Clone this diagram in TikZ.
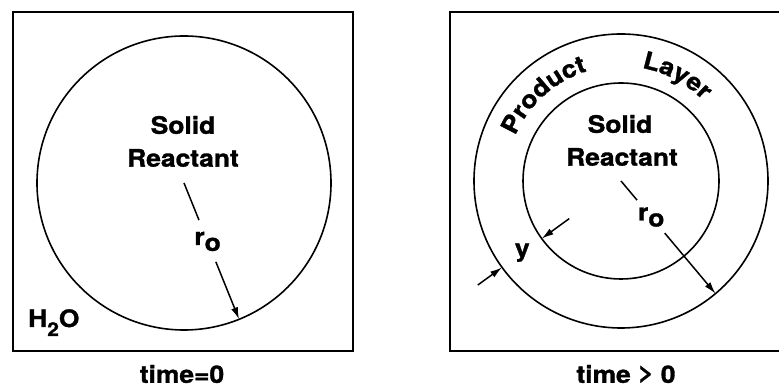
\documentclass[tikz,border=0pt]{standalone}
\usepackage{fontspec}
\usetikzlibrary{arrows.meta,decorations.text}
\newfontfamily\lab[FakeStretch=1.1,BoldFeatures={FakeBold=1.3}]{TeX Gyre Heros}
\newcommand\labfont{\lab\bfseries\fontsize{24}{27}\selectfont}
\begin{document}
\begin{tikzpicture}[x=1pt,y=1pt,
  frame/.style={line width=2.3pt},
  ring/.style={line width=1.6pt},
  radial/.style={line width=1.5pt},
  ptr/.style={line width=1.5pt,-{Latex[length=12pt,width=7pt]}},
  lbl/.style={font=\labfont, inner sep=0pt}]
\useasboundingbox (0,0) rectangle (779,387);
% ---------- left panel ----------
\draw[frame] (13,375) rectangle (353,36);
\coordinate (cL) at (184,204);
\draw[ring] (cL) circle[radius=147];
\node[lbl] (solidL) at (183,262) {Solid};
\node[lbl] (reacL) at (183,229) {Reactant};
\draw[radial] (cL) -- ([shift={(-68:40)}]cL);
\node[lbl] (roL) at ([shift={(-68:63)}]cL) {r\raisebox{-6pt}{o}};
\draw[ptr] ([shift={(-68:85)}]cL) -- ([shift={(-68:147)}]cL);
\node[lbl,anchor=base west] (water) at (28,60) {H\raisebox{-9pt}{\fontsize{19}{19}\selectfont 2}O};
\node[lbl] (t0) at (182,13) {time=0};
% ---------- right panel ----------
\draw[frame] (782,375) -- (450,375) -- (450,36) -- (782,36);
\coordinate (cR) at (621,206);
\draw[ring] (cR) circle[radius=147];
\draw[ring] (cR) circle[radius=98];
\node[lbl] (solidR) at (620,263) {Solid};
\node[lbl] (reacR) at (622,230) {Reactant};
\draw[radial] (cR) -- ([shift={(-50:25)}]cR);
\node[lbl] (roR) at ([shift={(-50:47)}]cR) {r\raisebox{-6pt}{o}};
\draw[ptr] ([shift={(-50:68)}]cR) -- ([shift={(-50:147)}]cR);
\draw[ptr] ([shift={(216:64)}]cR) -- ([shift={(216:98)}]cR);
\draw[ptr] ([shift={(216:177)}]cR) -- ([shift={(216:147)}]cR);
\node[lbl] (yl) at ([shift={(216:122)}]cR) {y};
\path[decorate,decoration={text along path,text={|\labfont|Product},text align=center}]
  ([shift={(162:115)}]cR) arc[start angle=162,end angle=102,radius=115];
\path[decorate,decoration={text along path,text={|\labfont|Layer},text align=center}]
  ([shift={(92:115)}]cR) arc[start angle=92,end angle=32,radius=115];
\node[lbl] (tp) at (626,13) {time \raisebox{2.5pt}{>} 0};
\end{tikzpicture}
\end{document}
